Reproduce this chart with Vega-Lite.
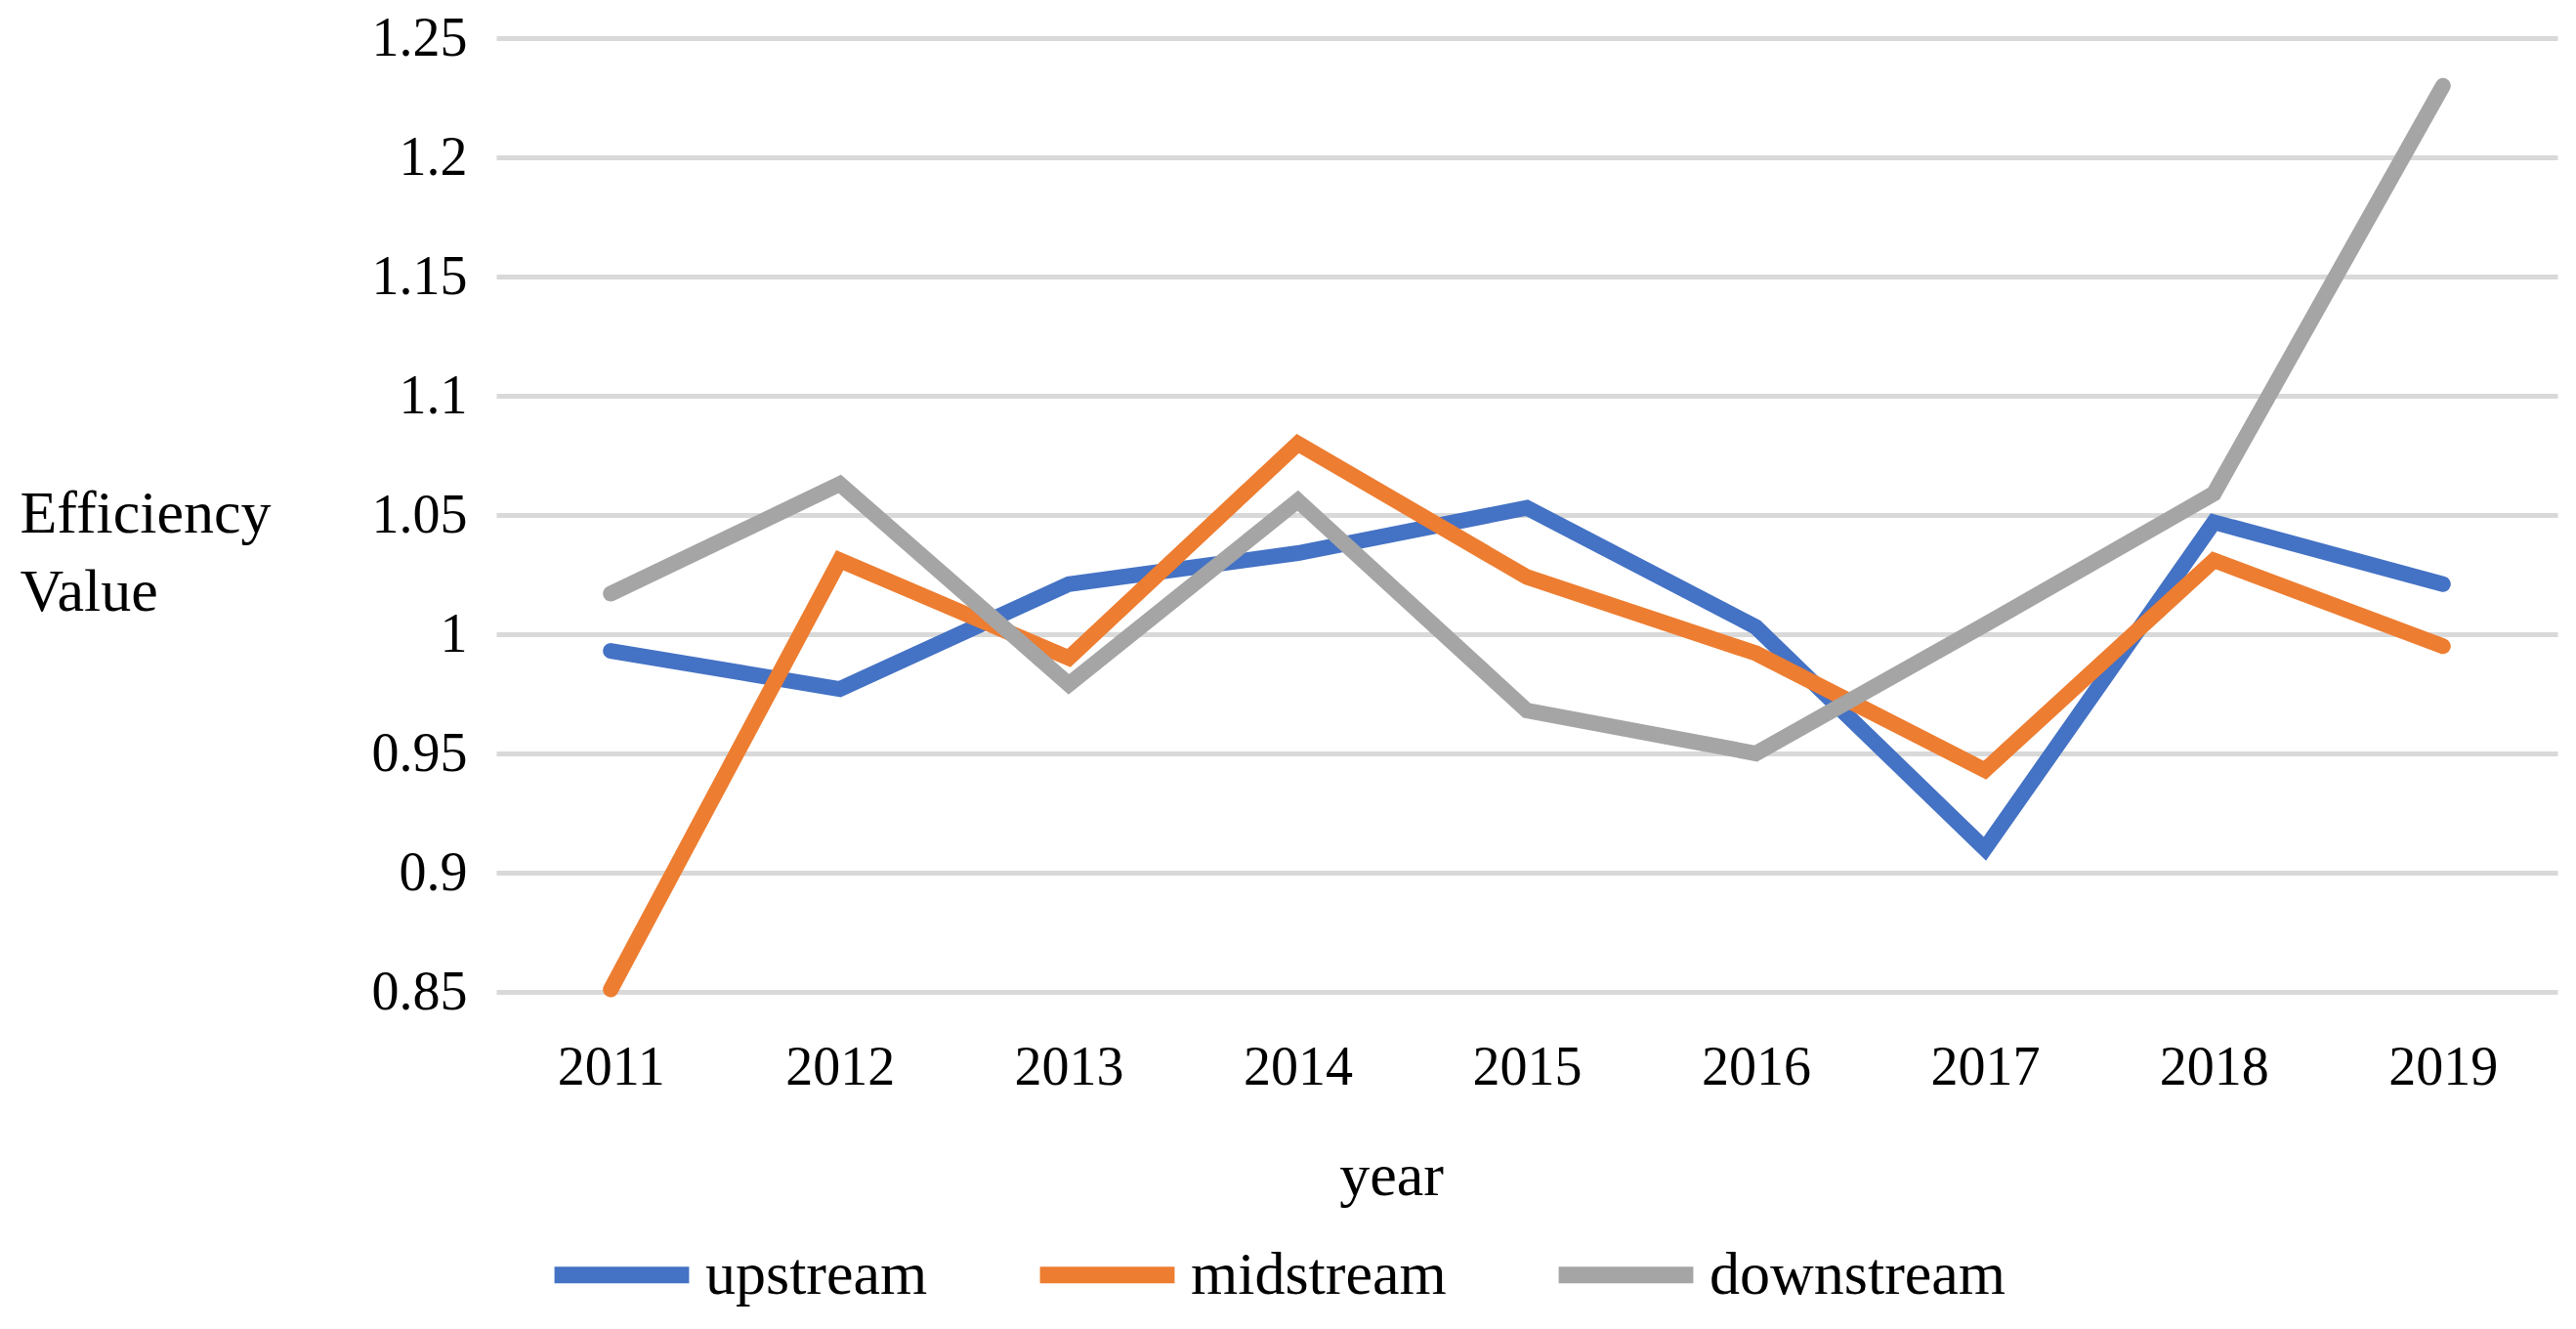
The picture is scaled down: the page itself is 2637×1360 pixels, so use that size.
{
  "$schema": "https://vega.github.io/schema/vega-lite/v6.json",
  "width": 2110,
  "height": 976,
  "autosize": {"type": "none"},
  "padding": {"left": 508, "top": 39, "right": 19, "bottom": 345},
  "background": "white",
  "config": {
    "view": {"stroke": null},
    "font": "Liberation Serif"
  },
  "data": {
    "values": [
      {"year": "2011", "series": "upstream", "value": 0.993},
      {"year": "2012", "series": "upstream", "value": 0.977},
      {"year": "2013", "series": "upstream", "value": 1.021},
      {"year": "2014", "series": "upstream", "value": 1.034},
      {"year": "2015", "series": "upstream", "value": 1.053},
      {"year": "2016", "series": "upstream", "value": 1.003},
      {"year": "2017", "series": "upstream", "value": 0.910},
      {"year": "2018", "series": "upstream", "value": 1.047},
      {"year": "2019", "series": "upstream", "value": 1.021},
      {"year": "2011", "series": "midstream", "value": 0.851},
      {"year": "2012", "series": "midstream", "value": 1.031},
      {"year": "2013", "series": "midstream", "value": 0.990},
      {"year": "2014", "series": "midstream", "value": 1.080},
      {"year": "2015", "series": "midstream", "value": 1.024},
      {"year": "2016", "series": "midstream", "value": 0.992},
      {"year": "2017", "series": "midstream", "value": 0.943},
      {"year": "2018", "series": "midstream", "value": 1.031},
      {"year": "2019", "series": "midstream", "value": 0.995},
      {"year": "2011", "series": "downstream", "value": 1.017},
      {"year": "2012", "series": "downstream", "value": 1.063},
      {"year": "2013", "series": "downstream", "value": 0.979},
      {"year": "2014", "series": "downstream", "value": 1.056},
      {"year": "2015", "series": "downstream", "value": 0.968},
      {"year": "2016", "series": "downstream", "value": 0.950},
      {"year": "2017", "series": "downstream", "value": 1.004},
      {"year": "2018", "series": "downstream", "value": 1.059},
      {"year": "2019", "series": "downstream", "value": 1.230}
    ]
  },
  "mark": {"type": "line", "strokeWidth": 16, "strokeCap": "round", "strokeJoin": "miter"},
  "encoding": {
    "x": {
      "field": "year",
      "type": "ordinal",
      "scale": {"type": "point", "padding": 0.5},
      "axis": {
        "title": "year",
        "titleFont": "Liberation Serif",
        "titleFontSize": 62,
        "titleFontWeight": "normal",
        "titleColor": "black",
        "titlePadding": 53,
        "titleX": 916,
        "titleAlign": "center",
        "labelAngle": 0,
        "labelFontSize": 56,
        "labelColor": "black",
        "labelPadding": 50,
        "domain": false,
        "ticks": false,
        "grid": false
      }
    },
    "y": {
      "field": "value",
      "type": "quantitative",
      "scale": {"domain": [0.85, 1.25], "nice": false, "zero": false},
      "axis": {
        "values": [0.85, 0.9, 0.95, 1, 1.05, 1.1, 1.15, 1.2, 1.25],
        "format": "~g",
        "title": ["Efficiency", "Value"],
        "titleAngle": 0,
        "titleAlign": "left",
        "titleBaseline": "middle",
        "titleX": -488,
        "titleY": 486,
        "titleFontSize": 62,
        "titleFontWeight": "normal",
        "titleColor": "black",
        "titleLineHeight": 80,
        "labelFontSize": 56,
        "labelColor": "black",
        "labelPadding": 30,
        "domain": false,
        "ticks": false,
        "grid": true,
        "gridColor": "#D9D9D9",
        "gridWidth": 5
      }
    },
    "color": {
      "field": "series",
      "type": "nominal",
      "sort": ["upstream", "midstream", "downstream"],
      "scale": {"domain": ["upstream", "midstream", "downstream"], "range": ["#4472C4", "#ED7D31", "#A5A5A5"]},
      "legend": {
        "title": null,
        "orient": "none",
        "direction": "horizontal",
        "legendX": 51,
        "legendY": 1188,
        "symbolType": "stroke",
        "symbolSize": 19000,
        "symbolStrokeWidth": 17,
        "labelFontSize": 62,
        "labelColor": "black",
        "labelOffset": 8,
        "labelLimit": 0,
        "columnPadding": 80
      }
    }
  }
}
